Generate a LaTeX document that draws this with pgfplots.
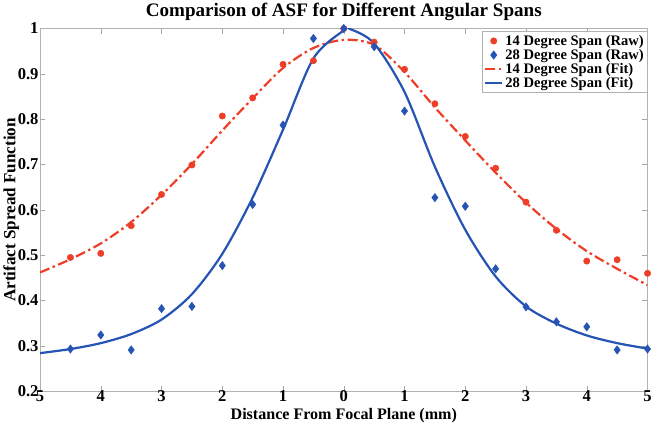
\documentclass[border=0pt]{standalone}
\usepackage{fontspec}
\setmainfont{Liberation Serif}
\usepackage{pgfplots}
\pgfplotsset{compat=1.18}
\definecolor{rawred}{RGB}{238,62,40}
\definecolor{fitblue}{RGB}{38,84,180}

\begin{document}
\begin{tikzpicture}
\begin{axis}[
    scale only axis,
    width=603bp, height=360bp,
    xmin=-5, xmax=5, ymin=0.2, ymax=1,
    xtick={-5,-4,...,5},
    xticklabels={5,4,3,2,1,0,1,2,3,4,5},
    ytick={0.2,0.3,...,1.0},
    tick align=inside,
    tick style={gray!70, line width=0.5pt},
    major tick length=5bp,
    axis line style={gray!60},
    /pgf/number format/assume math mode=true,
    ticklabel style={font=\fontsize{16.5}{16.5}\selectfont\bfseries},
    xticklabel style={yshift=4bp},
    yticklabel style={xshift=2bp},
    title={Comparison of ASF for Different Angular Spans},
    title style={font=\fontsize{19}{19}\selectfont\bfseries, yshift=-2bp},
    xlabel={Distance From Focal Plane (mm)},
    ylabel={Artifact Spread Function},
    xlabel style={font=\fontsize{16}{16}\selectfont\bfseries, yshift=0.5bp},
    ylabel style={font=\fontsize{17}{17}\selectfont\bfseries, yshift=-8bp},
    legend style={at={(1,0.992)}, anchor=north east, draw=gray!60,
        font=\fontsize{14.5}{14.5}\selectfont\bfseries, row sep=-1.5bp,
        inner sep=1.5bp},
    legend cell align=left,
]
\addplot[only marks, mark=*, mark size=3.2bp, color=rawred] coordinates {
(-4.5,0.495) (-4,0.504) (-3.5,0.565) (-3,0.634) (-2.5,0.699) (-2,0.807)
(-1.5,0.847) (-1,0.921) (-0.5,0.929) (0,1.0) (0.5,0.970) (1,0.910)
(1.5,0.834) (2,0.762) (2.5,0.692) (3,0.617) (3.5,0.555) (4,0.487)
(4.5,0.490) (5,0.460)};
\addplot[only marks, mark=diamond*, mark size=4.2bp, color=fitblue] coordinates {
(-4.5,0.293) (-4,0.324) (-3.5,0.291) (-3,0.382) (-2.5,0.387) (-2,0.477)
(-1.5,0.612) (-1,0.787) (-0.5,0.978) (0,1.0) (0.5,0.960) (1,0.818)
(1.5,0.627) (2,0.608) (2.5,0.470) (3,0.386) (3.5,0.353) (4,0.342)
(4.5,0.291) (5,0.293)};
\addplot[smooth, color=rawred, line width=2.2bp,
    dash pattern=on 10bp off 3.5bp on 2.5bp off 3.5bp] coordinates {
(-5,0.462) (-4.5,0.491) (-4,0.526) (-3.5,0.573) (-3,0.633) (-2.5,0.701)
(-2,0.775) (-1.5,0.846) (-1,0.913) (-0.5,0.957) (0,0.975) (0.5,0.964)
(1,0.904) (1.5,0.826) (2,0.753) (2.5,0.682) (3,0.616) (3.5,0.558)
(4,0.509) (4.5,0.470) (5,0.434)};
\addplot[smooth, color=fitblue, line width=2.2bp] coordinates {
(-5,0.284) (-4.5,0.293) (-4,0.306) (-3.5,0.326) (-3,0.358) (-2.5,0.414)
(-2,0.503) (-1.5,0.627) (-1,0.777) (-0.5,0.934) (0,0.996) (0.1,0.999)
(0.5,0.967) (1,0.860) (1.5,0.695) (2,0.556) (2.5,0.453) (3,0.387)
(3.5,0.349) (4,0.323) (4.5,0.306) (5,0.294)};
\legend{14 Degree Span (Raw), 28 Degree Span (Raw), 14 Degree Span (Fit), 28 Degree Span (Fit)}
\end{axis}
\end{tikzpicture}
\end{document}
